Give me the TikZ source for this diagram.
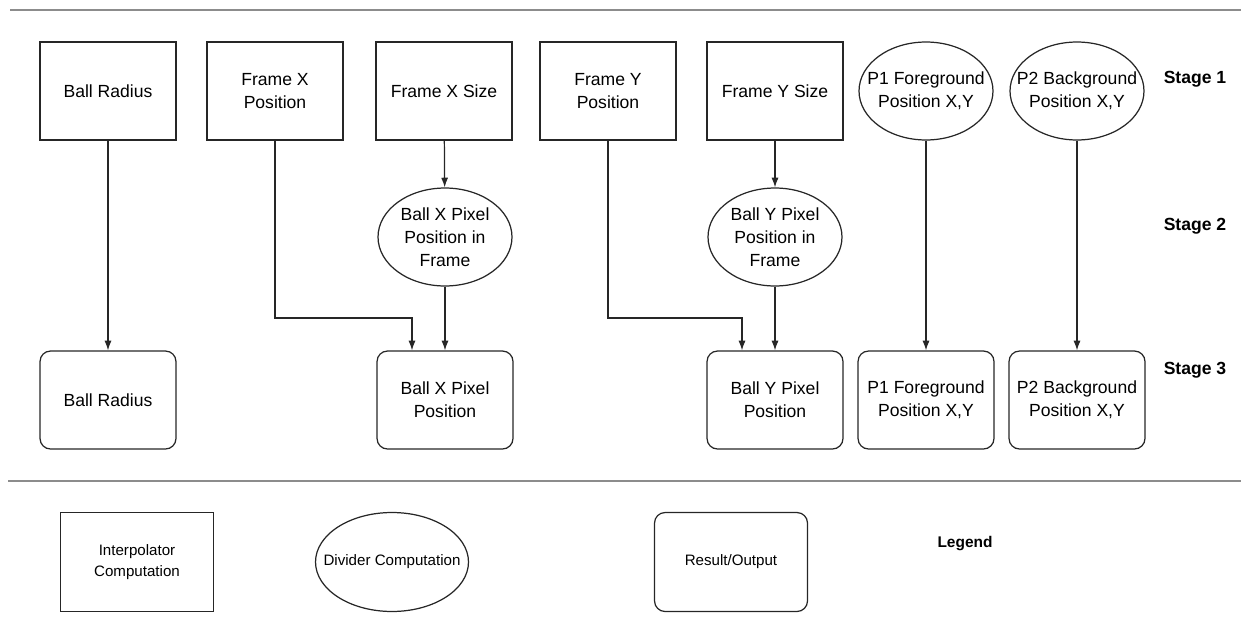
\documentclass[tikz,border=0pt]{standalone}
\usepackage{fontspec}
\setmainfont{Liberation Sans}
\usetikzlibrary{shapes.geometric,arrows.meta}

\begin{document}
\begin{tikzpicture}[x=0.02cm,y=-0.02cm,>={Latex[length=5.5pt,width=4pt]},
  every node/.style={font=\fontsize{10}{13}\selectfont,align=center},
  interp/.style={draw=black!85,line width=0.7pt,minimum width=2.72cm,minimum height=1.96cm},
  divider/.style={draw=black!85,line width=0.7pt,ellipse,minimum width=2.68cm,minimum height=1.96cm,inner xsep=-1cm,inner ysep=-0.5cm},
  result/.style={draw=black!85,line width=0.7pt,rounded corners=6pt,minimum width=2.72cm,minimum height=1.96cm},
  stage/.style={font=\fontsize{10}{13}\selectfont\bfseries},
  legitem/.style={font=\fontsize{8.6}{11.5}\selectfont,minimum width=3.06cm,minimum height=1.98cm},
  link/.style={->,draw=black!85,line width=0.7pt},
  rule/.style={draw=black!45,line width=0.8pt}]
\useasboundingbox (0,0) rectangle (1241,622);

% separators
\coordinate (topA) at (10,10);
\coordinate (topB) at (1241,10);
\coordinate (midA) at (8,481);
\coordinate (midB) at (1241,481);
\draw[rule] (topA) -- (topB);
\draw[rule] (midA) -- (midB);

% stage 1
\node[interp] (radius) at (108,91) {Ball Radius};
\node[interp] (framexpos) at (275,91) {Frame X\\Position};
\node[interp] (framexsize) at (444,91) {Frame X Size};
\node[interp] (frameypos) at (608,91) {Frame Y\\Position};
\node[interp] (frameysize) at (775,91) {Frame Y Size};
\node[divider] (fgin) at (926,91) {P1 Foreground\\Position X,Y};
\node[divider] (bgin) at (1077,91) {P2 Background\\Position X,Y};

% stage 2
\node[divider] (ballxframe) at (445,237) {Ball X Pixel\\Position in\\Frame};
\node[divider] (ballyframe) at (775,237) {Ball Y Pixel\\Position in\\Frame};

% stage 3
\node[result] (radiusout) at (108,400) {Ball Radius};
\node[result] (ballxout) at (445,400) {Ball X Pixel\\Position};
\node[result] (ballyout) at (775,400) {Ball Y Pixel\\Position};
\node[result] (fgout) at (926,400) {P1 Foreground\\Position X,Y};
\node[result] (bgout) at (1077,400) {P2 Background\\Position X,Y};

\node[stage] (stage1) at (1195,79) {Stage 1};
\node[stage] (stage2) at (1195,226) {Stage 2};
\node[stage] (stage3) at (1195,370) {Stage 3};

% connectors
\coordinate (xjoin) at (412,318);
\coordinate (yjoin) at (742,318);
\draw[link] (radius) -- (radiusout);
\draw[link] (framexsize) -- (ballxframe);
\draw[link] (ballxframe) -- (ballxout);
\draw[link] (framexpos.south) |- (xjoin) -- (xjoin |- ballxout.north);
\draw[link] (frameysize) -- (ballyframe);
\draw[link] (ballyframe) -- (ballyout);
\draw[link] (frameypos.south) |- (yjoin) -- (yjoin |- ballyout.north);
\draw[link] (fgin) -- (fgout);
\draw[link] (bgin) -- (bgout);

% legend
\node[interp,legitem] (leginterp) at (137,562) {Interpolator\\Computation};
\node[divider,legitem] (legdivider) at (392,562) {Divider Computation};
\node[result,legitem] (legresult) at (731,562) {Result/Output};
\node[stage,font=\fontsize{8.8}{11.5}\selectfont\bfseries] (legend) at (965,544) {Legend};
\end{tikzpicture}
\end{document}
